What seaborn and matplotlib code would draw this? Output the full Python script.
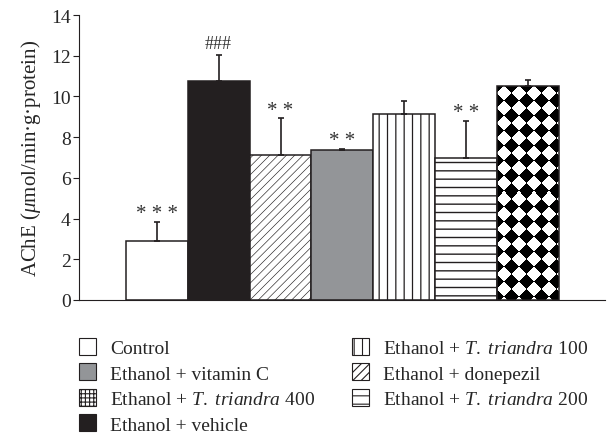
import numpy as np
import matplotlib.pyplot as plt
import seaborn as sns
from matplotlib.patches import Patch

# group order as drawn on the x axis
groups = ["Control", "Ethanol + vehicle", "Ethanol + donepezil", "Ethanol + vitamin C",
          "Ethanol + T. triandra 100", "Ethanol + T. triandra 200", "Ethanol + T. triandra 400"]
ache = [2.88, 10.77, 7.10, 7.37, 9.12, 6.96, 10.53]
err = [0.95, 1.28, 1.82, 0.05, 0.67, 1.82, 0.26]
marks = ["* * *", "###", "* *", "* *", "", "* *", ""]

# legend order (two columns)
legend_order = ["Control", "Ethanol + vitamin C", "Ethanol + T. triandra 400", "Ethanol + vehicle",
                "Ethanol + T. triandra 100", "Ethanol + donepezil", "Ethanol + T. triandra 200"]

dark = "#231f20"
faces = {"Control": "white", "Ethanol + vehicle": dark, "Ethanol + donepezil": "white",
         "Ethanol + vitamin C": "#939598", "Ethanol + T. triandra 100": "white",
         "Ethanol + T. triandra 200": "white", "Ethanol + T. triandra 400": "white"}
hatches = {"Ethanol + donepezil": "////", "Ethanol + T. triandra 100": "||",
           "Ethanol + T. triandra 200": "--"}
hatch_lw = {"Ethanol + donepezil": 0.45, "Ethanol + T. triandra 100": 0.9,
            "Ethanol + T. triandra 200": 1.0}

sns.set_style("ticks")
plt.rcParams["font.family"] = ["Liberation Serif", "DejaVu Serif"]
plt.rcParams["mathtext.fontset"] = "custom"
plt.rcParams["mathtext.rm"] = "Liberation Serif"
plt.rcParams["mathtext.it"] = "Liberation Serif:italic"
plt.rcParams["hatch.linewidth"] = 0.8
plt.rcParams["hatch.color"] = dark


def nice(label):
    return label.replace("T. triandra", r"$\mathit{T.\ triandra}$")


fig = plt.figure(figsize=(6.08, 4.39), dpi=100)
ax = fig.add_axes([79 / 608, 1 - 301 / 439, (605 - 79) / 608, 285 / 439])

sns.barplot(x=groups, y=ache, hue=groups, palette=faces, legend=False, width=1.0,
            saturation=1, edgecolor=dark, linewidth=1.1, ax=ax)

xlim = (-1.254, 7.24)
ax.set_ylim(0, 14)
ax.set_xlim(*xlim)
ax.set_yticks(range(0, 15, 2))

bars = ax.patches[:len(groups)]
xs = []
for bar, g in zip(bars, groups):
    xs.append(bar.get_x() + bar.get_width() / 2)
    if g in hatches:
        bar.set_hatch(hatches[g])
        if hasattr(bar, "set_hatch_linewidth"):
            bar.set_hatch_linewidth(hatch_lw[g])

# diamond pattern for the T. triandra 400 bar
bar = bars[groups.index("Ethanol + T. triandra 400")]
bb = bar.get_window_extent()
w, h = int(round(bb.width)), int(round(bb.height))
yy, xx = np.mgrid[0:h, 0:w]
c = 15.0
pat = (np.floor((xx + yy + 8) / c) + np.floor((xx - yy + 8 + 1000 * c) / c)) % 2
img = ax.imshow(pat, cmap="gray", vmin=0, vmax=1, interpolation="nearest", aspect="auto",
                extent=(bar.get_x(), bar.get_x() + bar.get_width(), 0, bar.get_height()),
                zorder=0.5)
img.set_clip_path(bar)
bar.set_facecolor("none")
ax.set_ylim(0, 14)
ax.set_xlim(*xlim)

ax.errorbar(xs, ache, yerr=[np.zeros(len(err)), err], fmt="none", ecolor=dark,
            elinewidth=1.2, capsize=2.5, capthick=1.2, zorder=3)

for x, y, e, m in zip(xs, ache, err, marks):
    if m:
        ax.annotate(m, (x, y + e), xytext=(0, 6 if m != "###" else 8),
                    textcoords="offset points", ha="center", va="center",
                    fontsize=15 if m != "###" else 13, color="#333333")

ax.set_ylabel(r"AChE ($\mu$mol/min·g·protein)", fontsize=15, labelpad=6)
ax.set_xlabel("")
ax.set_xticks([])
ax.tick_params(axis="y", labelsize=14, length=4, width=0.8, color=dark, pad=2)
for s in ["left", "bottom"]:
    ax.spines[s].set_color(dark)
    ax.spines[s].set_linewidth(0.8)
sns.despine(ax=ax)

handles = []
for g in legend_order:
    if g == "Ethanol + T. triandra 400":
        p = Patch(facecolor="white", edgecolor=dark, hatch="++++", linewidth=0.8)
    else:
        p = Patch(facecolor=faces[g], edgecolor=dark, hatch=hatches.get(g), linewidth=0.8)
        if g in hatch_lw and hasattr(p, "set_hatch_linewidth"):
            p.set_hatch_linewidth(hatch_lw[g])
    handles.append(p)
fig.legend(handles, [nice(g) for g in legend_order], ncol=2, frameon=False,
           loc="upper left", bbox_to_anchor=(79 / 608, 1 - 339 / 439),
           fontsize=14, handlelength=0.85, handleheight=0.95, handletextpad=0.75,
           labelspacing=0.33, columnspacing=1.9, borderaxespad=0, borderpad=0)

fig.savefig("out.png", dpi=100)
